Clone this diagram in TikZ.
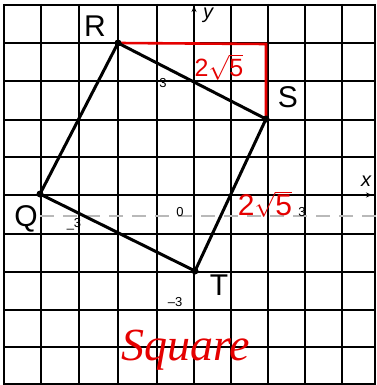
\documentclass[tikz,border=0pt]{standalone}
\usepackage{fontspec}
\setmainfont{Liberation Sans}
\newfontfamily\handfont{Liberation Serif}
\usetikzlibrary{arrows.meta}
\newcommand{\rootfive}{2\ensuremath{\sqrt{\mbox{5}}}}
\begin{document}
\begin{tikzpicture}[x=1pt,y=-1pt,
  gridline/.style={black,line width=2.2pt},
  side/.style={black,line width=3pt,line cap=round},
  redmark/.style={red!90!black,line width=2.6pt},
  ptlabel/.style={font=\fontsize{30}{30}\selectfont},
  ticklabel/.style={font=\fontsize{13}{13}\selectfont},
  redtext/.style={text=red!90!black,font=\fontsize{25}{25}\selectfont},
  axisarrow/.style={-{Stealth[length=6pt,width=5pt]},line width=2.2pt}]
\useasboundingbox (0,0) rectangle (376,385);
\fill[white] (0,0) rectangle (376,385);
% grid
\foreach \x in {4,41,79,118,157,194,231,268,305,342,375}
  \draw[gridline] (\x,4) -- (\x,384);
\foreach \y in {5,43,81,120,157,195,234,272,310,347,384}
  \draw[gridline] (3,\y) -- (376,\y);
% faint dashed line
\draw[gray!55,line width=1.3pt,dash pattern=on 14pt off 9pt] (40,216) -- (376,216);
% axes arrows
\coordinate (ybase) at (194,30);
\coordinate (ytip) at (194,6);
\draw[axisarrow] (ybase) -- (ytip);
\coordinate (xbase) at (350,195);
\coordinate (xtip) at (372,195);
\draw[axisarrow] (xbase) -- (xtip);
\node[font=\itshape\fontsize{20}{20}\selectfont] (ylab) at (208,15) {y};
\node[font=\itshape\fontsize{20}{20}\selectfont] (xlab) at (366,181) {x};
% tick labels
\node[ticklabel] (t3y) at (163,83) {3};
\node[ticklabel] (t0) at (180,212) {0};
\node[ticklabel] (tm3x) at (74,224) {\_3};
\node[ticklabel] (t3x) at (302,212) {3};
\node[ticklabel] (tm3y) at (175,302) {–3};
% vertices
\coordinate (Q) at (40,194);
\coordinate (R) at (118,43);
\coordinate (S) at (266,119);
\coordinate (T) at (195,271);
\coordinate (C) at (266,44);
% red right angle
\draw[redmark] (R) -- (C) -- (S);
% square sides
\draw[side] (Q) -- (R);
\draw[side] (R) -- (S);
\draw[side] (S) -- (T);
\draw[side] (T) -- (Q);
\foreach \p in {Q,R,S,T} \fill (\p) circle (3.5pt);
% labels
\node[ptlabel] (Rl) at (95,26) {R};
\node[ptlabel] (Sl) at (288,97) {S};
\node[ptlabel] (Ql) at (26,219) {Q};
\node[ptlabel] (Tl) at (219,285) {T};
\node[redtext] (l1) at (219,67) {\rootfive};
\node[redtext,font=\fontsize{30}{30}\selectfont] (l2) at (265,204) {\rootfive};
\node[text=red!90!black,font=\handfont\itshape\fontsize{46}{46}\selectfont] (sq) at (186,350) {Square};
\end{tikzpicture}
\end{document}
